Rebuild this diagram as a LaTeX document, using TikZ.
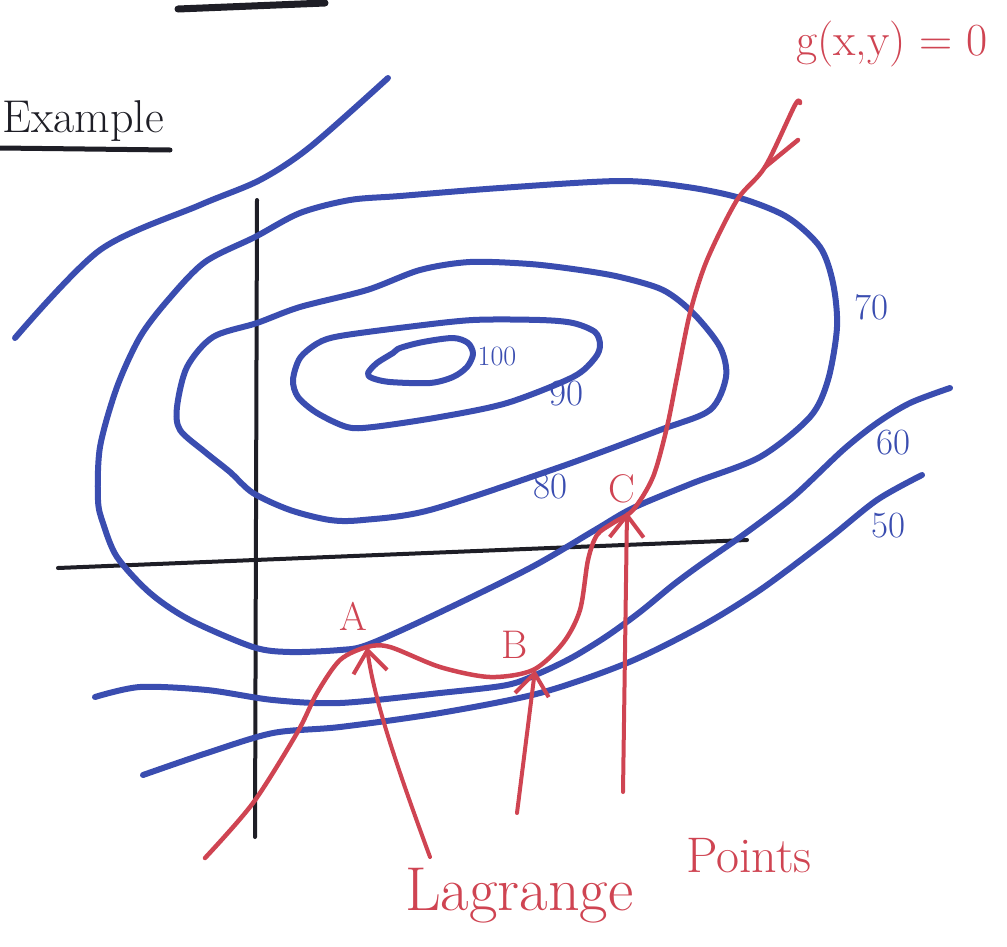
\documentclass[tikz,border=0pt]{standalone}
\usepackage{xcolor}
\usepackage{tikz}
\usetikzlibrary{arrows.meta}
\definecolor{contourblue}{HTML}{3A4DB0}
\definecolor{constraintred}{HTML}{CF4452}
\definecolor{penblack}{HTML}{1E1E26}

\tikzset{
  contour/.style={contourblue,line width=6pt},
  constraint/.style={constraintred,line width=4.5pt},
  pointer/.style={constraintred,line width=4pt,-{Straight Barb[length=22pt,width=34pt]}},
  levellabel/.style={contourblue,font=\fontsize{37}{37}\selectfont},
  pointlabel/.style={constraintred,font=\fontsize{40}{40}\selectfont}
}

\begin{document}
\begin{tikzpicture}[x=1pt,y=-1pt,line cap=round,line join=round]
  \useasboundingbox (0,0) rectangle (1007,946);
  % heading
  \draw[penblack,line width=7pt] (178,9) -- (325,3);
  \node[penblack,anchor=base west,inner sep=0pt,font=\fontsize{46}{46}\selectfont] (title) at (2,132) {Example};
  \draw[penblack,line width=5pt] (0,148) -- (170,150);
  % axes
  \draw[penblack,line width=4pt] (257,200) -- (255,837);
  \draw[penblack,line width=4pt] (58,568) -- (747,540);
  % level curves of f
  \draw[contour] plot[smooth] coordinates {(15,338) (100,250) (200,205) (260,180) (310,147) (388,78)};
  \draw[contour] plot[smooth cycle] coordinates {(98,500) (100,447) (117,387) (140,337) (168,300) (205,262) (255,237)
    (300,213) (350,200) (400,196) (500,188) (620,181) (687,187) (740,198) (787,217) (820,247) (833,283) (837,327)
    (828,380) (810,417) (760,457) (693,483) (633,508) (595,530) (530,568) (430,617) (367,645) (340,650) (290,652)
    (253,647) (190,620) (150,593) (117,557) (103,523)};
  \draw[contour] plot[smooth cycle] coordinates {(177,407) (187,367) (213,337) (257,323) (300,307) (367,290) (420,270)
    (470,262) (530,264) (580,270) (620,277) (663,290) (693,313) (720,347) (726,377) (710,410) (660,430) (560,467)
    (430,510) (363,520) (330,520) (290,510) (253,493) (230,472) (205,452) (180,430)};
  \draw[contour] plot[smooth cycle] coordinates {(293,380) (300,358) (318,343) (340,336) (407,327) (473,320) (540,320)
    (573,323) (595,332) (600,345) (595,358) (573,377) (507,403) (440,417) (373,427) (347,427) (317,413) (298,397)};
  \draw[contour] plot[smooth cycle] coordinates {(368,373) (377,363) (393,353) (400,348) (423,342) (453,338) (468,343)
    (473,354) (467,367) (453,377) (430,383) (390,382) (372,378)};
  \draw[contour] plot[smooth] coordinates {(95,697) (140,687) (207,690) (273,700) (340,703) (440,693) (507,685)
    (540,673) (573,657) (607,636) (640,612) (673,585) (700,565) (743,535) (793,497) (843,450) (877,423) (910,403) (950,388)};
  \draw[contour] plot[smooth] coordinates {(143,775) (207,753) (273,733) (340,727) (440,713) (540,693) (627,663)
    (700,627) (760,590) (827,540) (877,500) (922,475)};
  \node[levellabel,font=\fontsize{28}{28}\selectfont] (lab100) at (497,356) {100};
  \node[levellabel] (lab90) at (566,394) {90};
  \node[levellabel] (lab80) at (550,487) {80};
  \node[levellabel] (lab70) at (871,307) {70};
  \node[levellabel] (lab60) at (893,443) {60};
  \node[levellabel] (lab50) at (888,526) {50};
  % constraint curve g(x,y)=0
  \draw[constraint] plot[smooth] coordinates {(205,858) (253,803) (297,733) (317,693) (340,660) (367,647) (390,647)
    (440,667) (490,677) (533,670) (563,643) (580,610) (588,560) (597,535) (613,523) (633,510) (653,477) (667,427)
    (677,377) (690,313) (707,260) (737,200) (765,167) (795,105) (800,103)};
  \draw[constraint] (765,167) -- (798,140);
  \node[constraintred,anchor=base,font=\fontsize{46}{46}\selectfont] (glabel) at (892,55) {g(x,y) = 0};
  % Lagrange points
  \coordinate (ptA) at (367,647);
  \coordinate (ptB) at (535,670);
  \coordinate (ptC) at (627,512);
  \coordinate (tailA) at (430,857);
  \coordinate (tailB) at (517,813);
  \coordinate (tailC) at (623,792);
  \node[pointlabel] (labA) at (353,616) {A};
  \node[pointlabel] (labB) at (515,645) {B};
  \node[pointlabel] (labC) at (622,489) {C};
  \draw[pointer] (tailA) .. controls (398,770) and (374,700) .. (ptA);
  \draw[pointer] (tailB) -- (ptB);
  \draw[pointer] (tailC) -- (ptC);
  \node[constraintred,anchor=base west,inner sep=0pt,font=\fontsize{62}{62}\selectfont] (lagrange) at (405,910) {Lagrange};
  \node[constraintred,anchor=base west,inner sep=0pt,font=\fontsize{50}{50}\selectfont] (points) at (686,872) {Points};
\end{tikzpicture}
\end{document}
